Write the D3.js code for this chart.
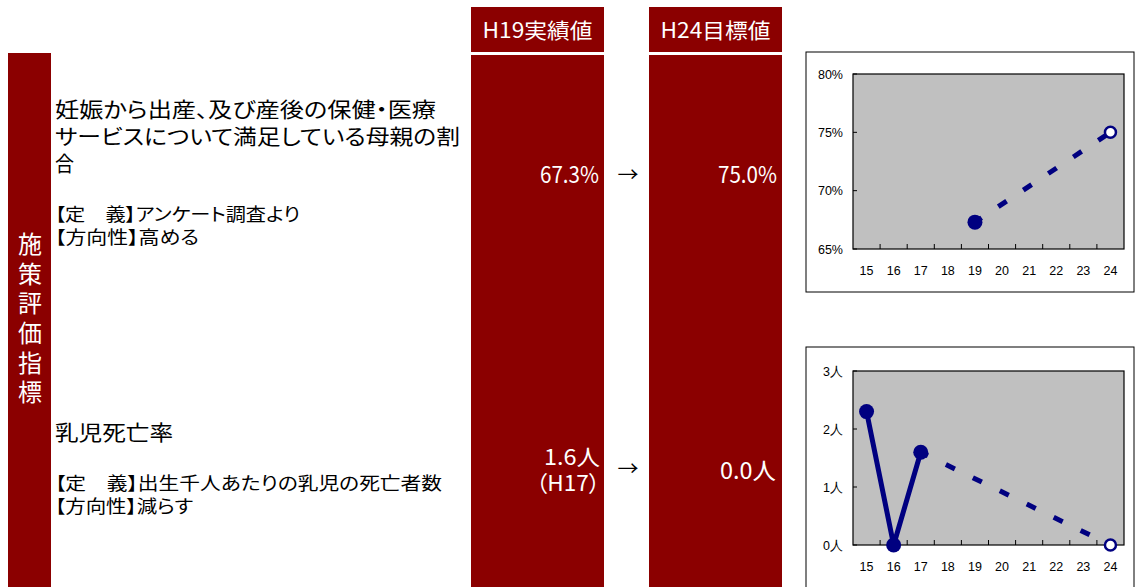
<!DOCTYPE html>
<html lang="ja">
<head>
<meta charset="utf-8">
<style>
  body { margin: 0; background: #fff; }
  text { font-family: "Noto Sans CJK JP", "Noto Sans", sans-serif; font-feature-settings: "palt"; }
  .tick-label { font-family: "Liberation Sans", Arial, sans-serif; font-size: 12.5px; fill: #000; }
</style>
<script src="https://cdn.jsdelivr.net/npm/d3@7"></script>
</head>
<body>
<div id="chart"></div>
<script>
// ---- data ----
var years = ["15", "16", "17", "18", "19", "20", "21", "22", "23", "24"];

var satisYTicks = [65, 70, 75, 80];
var satisActual = [{ year: "19", value: 67.3 }];
var satisTarget = [{ year: "24", value: 75.0 }];

var infantYTicks = [0, 1, 2, 3];
var infantActual = [
  { year: "15", value: 2.3 },
  { year: "16", value: 0.0 },
  { year: "17", value: 1.6 }
];
var infantTarget = [{ year: "24", value: 0.0 }];

var headers = ["H19実績値", "H24目標値"];
var sideTitle = "施策評価指標";

var width = 1135, height = 587;
var red = "#8b0000", navy = "#000080";

var svg = d3.select("#chart").append("svg")
  .attr("width", width)
  .attr("height", height);

// text helper, len = width the reference text takes
function txt(x, y, s, size, fill, anchor, len) {
  var t = svg.append("text")
    .attr("x", x).attr("y", y)
    .attr("dy", "0.36em")
    .attr("text-anchor", anchor || "start")
    .attr("font-size", size)
    .attr("fill", fill)
    .text(s);
  if (len) t.attr("textLength", len).attr("lengthAdjust", "spacingAndGlyphs");
  return t;
}
// several lines in one text element; rows = [[string, width], ...]
function block(x, y0, step, size, fill, anchor, rows) {
  var t = svg.append("text")
    .attr("text-anchor", anchor)
    .attr("font-size", size)
    .attr("fill", fill);
  rows.forEach(function(r, i) {
    t.append("tspan")
      .attr("x", x).attr("y", y0 + i * step)
      .attr("dy", "0.36em")
      .attr("textLength", r[1]).attr("lengthAdjust", "spacingAndGlyphs")
      .text(r[0]);
  });
}

// left vertical bar
svg.append("rect").attr("x", 8).attr("y", 53).attr("width", 43).attr("height", height - 53).attr("fill", red);
svg.append("text")
  .attr("x", 30).attr("y", 232)
  .attr("font-size", 24)
  .attr("fill", "#fff")
  .style("writing-mode", "vertical-rl")
  .style("font-feature-settings", "normal")
  .style("letter-spacing", "5.6px")
  .text(sideTitle);

// header boxes and value columns
var colX = [471, 649], colW = 133;
headers.forEach(function(h, i) {
  svg.append("rect").attr("x", colX[i]).attr("y", 7).attr("width", colW).attr("height", 45).attr("fill", red);
  svg.append("rect").attr("x", colX[i]).attr("y", 55).attr("width", colW).attr("height", height - 55).attr("fill", red);
  txt(colX[i] + colW / 2, 30, h, 21, "#fff", "middle", 110);
});

// values row 1
txt(599, 175, satisActual[0].value.toFixed(1) + "%", 23, "#fff", "end", 59);
txt(777, 175, satisTarget[0].value.toFixed(1) + "%", 23, "#fff", "end", 59);
txt(628, 175, "→", 20, "#000", "middle", 21);
// values row 2
block(600, 457, 26, 22, "#fff", "end", [
  [infantActual[2].value.toFixed(1) + "人", 56],
  ["（H17）", 64]
]);
txt(776, 471, infantTarget[0].value.toFixed(1) + "人", 23, "#fff", "end", 56);
txt(628, 469, "→", 20, "#000", "middle", 21);

// description texts
block(55, 109, 27, 21, "#000", "start", [
  ["妊娠から出産、及び産後の保健・医療", 381],
  ["サービスについて満足している母親の割", 405],
  ["合", 19]
]);
block(55, 215, 23, 18, "#000", "start", [
  ["【定　義】アンケート調査より", 245],
  ["【方向性】高める", 144]
]);
txt(55, 432, "乳児死亡率", 21, "#000", "start", 118);
block(55, 484, 23, 18, "#000", "start", [
  ["【定　義】出生千人あたりの乳児の死亡者数", 387],
  ["【方向性】減らす", 138]
]);

// ---- small line charts ----
function miniChart(opt) {
  var g = svg.append("g");
  g.append("rect")
    .attr("x", opt.frame[0]).attr("y", opt.frame[1])
    .attr("width", opt.frame[2]).attr("height", opt.frame[3])
    .attr("fill", "#fff").attr("stroke", "#000").attr("stroke-width", 1);

  var x = d3.scaleBand().domain(years).range([853, 1124]).padding(0);
  var y = d3.scaleLinear().domain(d3.extent(opt.ticks)).range([opt.bottom, opt.top]);

  g.append("rect")
    .attr("x", 853).attr("y", opt.top)
    .attr("width", 1124 - 853).attr("height", opt.bottom - opt.top)
    .attr("fill", "#c0c0c0").attr("stroke", "#000").attr("stroke-width", 1.2);

  // x ticks (inside, at category boundaries)
  years.slice(1).forEach(function(yr) {
    g.append("line")
      .attr("x1", x(yr)).attr("x2", x(yr))
      .attr("y1", opt.bottom).attr("y2", opt.bottom - 5)
      .attr("stroke", "#000");
  });
  years.forEach(function(yr) {
    g.append("text").attr("class", "tick-label")
      .attr("x", x(yr) + x.bandwidth() / 2).attr("y", opt.bottom + 21)
      .attr("dy", "0.36em")
      .attr("text-anchor", "middle")
      .text(yr);
  });
  // y ticks
  opt.ticks.forEach(function(t) {
    g.append("line")
      .attr("x1", 853).attr("x2", 857)
      .attr("y1", y(t)).attr("y2", y(t))
      .attr("stroke", "#000");
    g.append("text").attr("class", "tick-label")
      .attr("x", 843).attr("y", y(t))
      .attr("dy", "0.36em")
      .attr("text-anchor", "end")
      .text(opt.fmt(t));
  });

  var cx = function(d) { return x(d.year) + x.bandwidth() / 2; };
  var line = d3.line().x(cx).y(function(d) { return y(d.value); });

  var last = opt.actual[opt.actual.length - 1];
  // dashed projection
  g.append("path")
    .datum([last, opt.target[0]])
    .attr("d", line)
    .attr("fill", "none")
    .attr("stroke", navy)
    .attr("stroke-width", 5)
    .attr("stroke-dasharray", "10,20")
    .attr("stroke-dashoffset", 2);
  // actual line
  if (opt.actual.length > 1) {
    g.append("path")
      .datum(opt.actual)
      .attr("d", line)
      .attr("fill", "none")
      .attr("stroke", navy)
      .attr("stroke-width", 5);
  }
  g.selectAll(".dot").data(opt.actual).enter().append("circle")
    .attr("cx", cx).attr("cy", function(d) { return y(d.value); })
    .attr("r", 7.5)
    .attr("fill", navy);
  g.selectAll(".tgt").data(opt.target).enter().append("circle")
    .attr("cx", cx).attr("cy", function(d) { return y(d.value); })
    .attr("r", 5.5)
    .attr("fill", "#fff")
    .attr("stroke", navy)
    .attr("stroke-width", 2.5);
}

miniChart({
  frame: [806, 52, 328, 240],
  top: 74, bottom: 249,
  ticks: satisYTicks,
  fmt: function(t) { return t + "%"; },
  actual: satisActual,
  target: satisTarget
});

miniChart({
  frame: [806, 347, 328, 260],
  top: 371, bottom: 545,
  ticks: infantYTicks,
  fmt: function(t) { return t + "人"; },
  actual: infantActual,
  target: infantTarget
});
</script>
</body>
</html>
